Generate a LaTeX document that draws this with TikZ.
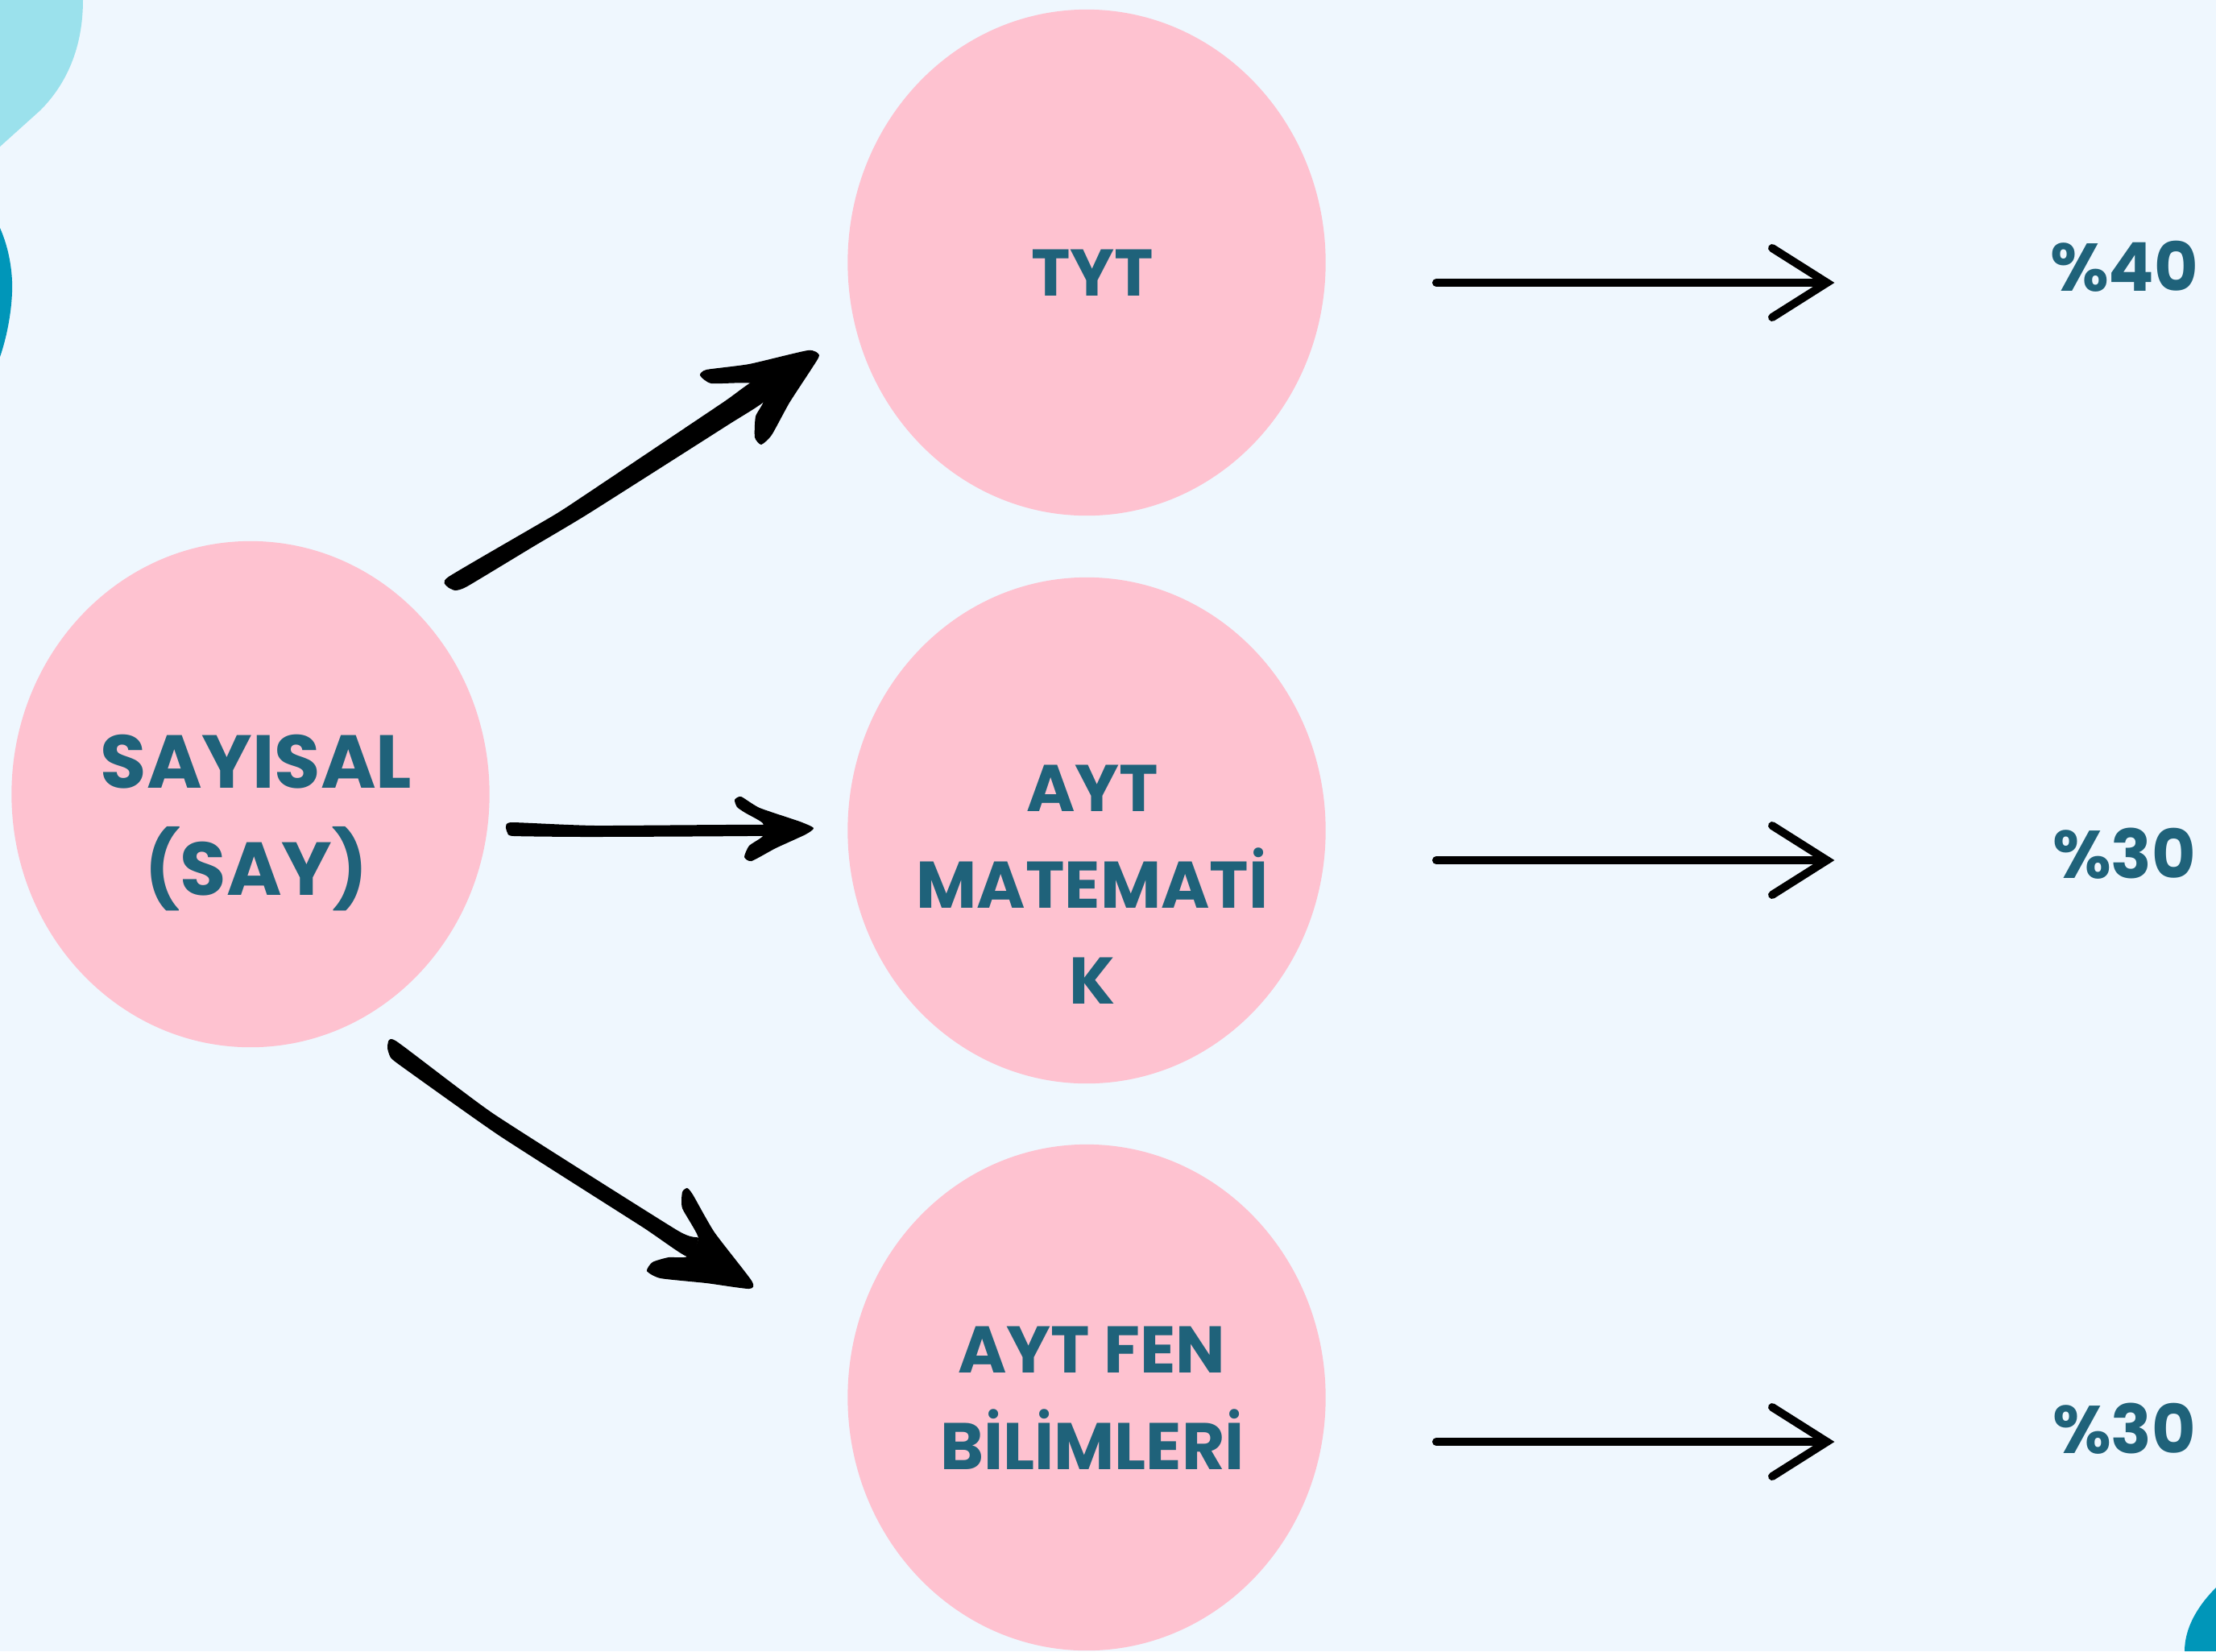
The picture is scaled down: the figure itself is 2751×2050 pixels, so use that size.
\documentclass[tikz,border=0pt]{standalone}
\usepackage{fontspec}
\setmainfont{Poppins}
\usetikzlibrary{shapes.geometric}
\definecolor{bg}{RGB}{239,247,254}
\definecolor{blobpink}{RGB}{254,194,208}
\definecolor{txt}{RGB}{31,98,122}
\definecolor{cyanlt}{RGB}{155,225,236}
\definecolor{tealdk}{RGB}{0,150,185}
\begin{document}
\begin{tikzpicture}[x=0.01cm,y=-0.01cm,
  blob/.style={ellipse, fill=blobpink, draw=none, minimum width=5.93cm, minimum height=6.28cm, inner sep=0},
  lbl/.style={text=txt, font=\bfseries\fontsize{23.3}{28}\selectfont, inner sep=0, anchor=base},
  biglbl/.style={text=txt, font=\bfseries\fontsize{26.5}{32}\selectfont, inner sep=0, anchor=base},
  pct/.style={text=txt, font=\bfseries\fontsize{23.8}{28}\selectfont, inner sep=0, anchor=base},
  rarrow/.style={draw=black, line width=0.1cm, line cap=round, line join=miter},
  hand/.style={fill=black, draw=none}]
\useasboundingbox (0,0) rectangle (2751,2050);
\fill[bg] (0,0) rectangle (2751,2050);
% corner decorations
\fill[cyanlt] (0,0) -- (103,0) .. controls (103,60) and (82,105) .. (50,137) -- (0,182) -- cycle;
\fill[tealdk] (0,283) .. controls (12,310) and (16,340) .. (15,363) .. controls (14,390) and (8,420) .. (0,443) -- cycle;
\fill[tealdk] (2751,1971) .. controls (2727,1995) and (2712,2022) .. (2712,2050) -- (2751,2050) -- cycle;
% circles
\node[blob] (say) at (311,986) {};
\node[blob] (tyt) at (1349,326) {};
\node[blob] (mat) at (1349,1031) {};
\node[blob] (fen) at (1349,1735) {};
% texts
\node[biglbl] (sayA) at (318,978) {SAYISAL};
\node[biglbl] (sayB) at (318,1111) {(SAY)};
\node[lbl] (tytT) at (1356,367) {TYT};
\node[lbl] (matA) at (1356,1007) {AYT};
\node[lbl] (matB) at (1356,1127) {MATEMATİ};
\node[lbl] (matC) at (1356,1246) {K};
\node[lbl] (fenA) at (1355,1704) {AYT FEN};
\node[lbl] (fenB) at (1356,1824) {BİLİMLERİ};
\node[pct] (p1) at (2637,361) {\%40};
\node[pct] (p2) at (2637,1090) {\%30};
\node[pct] (p3) at (2637,1804) {\%30};
% straight arrows on the right
\coordinate (s1) at (1783,351); \coordinate (e1) at (2268,351);
\coordinate (s2) at (1783,1068); \coordinate (e2) at (2268,1068);
\coordinate (s3) at (1783,1790); \coordinate (e3) at (2268,1790);
\foreach \s/\e in {s1/e1,s2/e2,s3/e3}{
  \draw[rarrow] (\s) -- (\e);
  \draw[rarrow] (\e) ++(-68,-43) -- (\e) -- ++(-68,43);
}
% hand drawn arrows
% up-right
\fill[hand] plot[smooth cycle, tension=0.3] coordinates {(557,716) (687,640) (730,612) (897,500) (935,474) (950,497) (903,528) (730,638) (663,678) (580,728) (565,733) (555,728)};
\fill[hand] plot[smooth cycle, tension=0.35] coordinates {(1017,441) (1003,435) (930,452) (877,459) (869,466) (883,476) (933,476) (948,497) (938,517) (937,543) (945,552) (958,540) (980,500) (1008,457)};
% middle
\fill[hand] plot[smooth cycle, tension=0.3] coordinates {(636,1021) (740,1025) (985,1024) (985,1037) (740,1039) (638,1038) (630,1034) (628,1026)};
\fill[hand] plot[smooth cycle, tension=0.35] coordinates {(1010,1028) (993,1020) (943,1003) (920,989) (912,993) (915,1002) (925,1009) (947,1022) (947,1038) (930,1050) (924,1064) (933,1069) (963,1053) (1000,1036)};
% down-right
\fill[hand] plot[smooth cycle, tension=0.3] coordinates {(491,1292) (613,1383) (840,1527) (867,1537) (853,1560) (797,1523) (620,1410) (500,1325) (485,1313) (481,1300)};
\fill[hand] plot[smooth cycle, tension=0.35] coordinates {(867,1537) (847,1500) (847,1480) (853,1475) (860,1483) (887,1530) (933,1590) (930,1600) (877,1593) (820,1587) (803,1578) (810,1567) (830,1561) (853,1560)};
\end{tikzpicture}
\end{document}
